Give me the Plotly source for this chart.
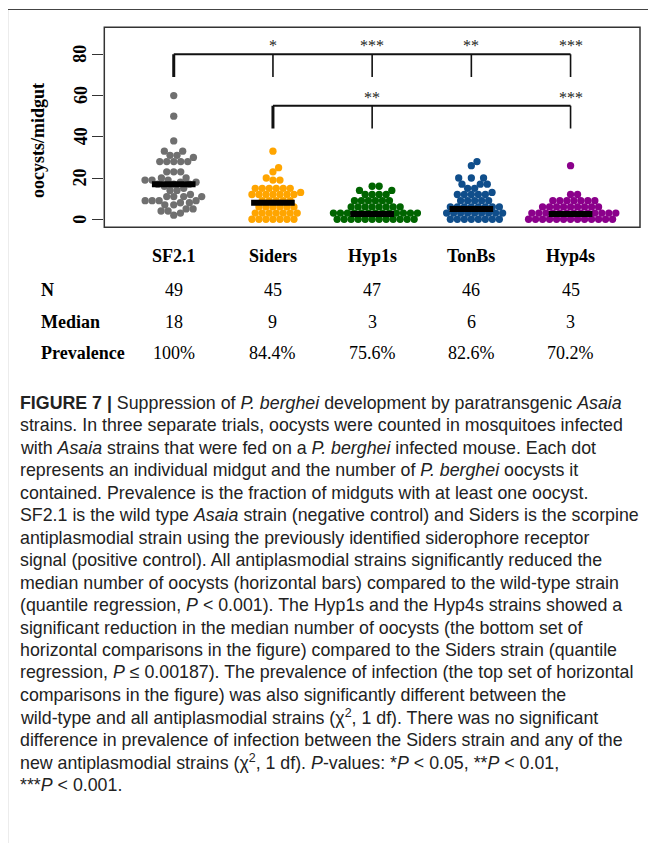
import math
import numpy as np
import plotly.graph_objects as go

# ---------------- data ----------------
groups = ["SF2.1", "Siders", "Hyp1s", "TonBs", "Hyp4s"]
colors = ["#707070", "#FFA500", "#006400", "#104E8B", "#8B008B"]

sf21 = [60, 50, 38, 33, 33, 31, 31, 30, 28, 28, 28, 28, 28, 23, 23, 23, 20, 20, 19, 19,
        19, 18, 18, 17, 17, 17, 16, 15, 14, 14, 12, 11, 11, 11, 11, 9, 9, 9, 9, 8,
        8, 7, 7, 5, 5, 4, 4, 3, 2]
siders = [33, 25, 23, 20, 19, 19, 15, 15, 15, 15, 15, 15, 13, 12, 12, 12, 12, 12, 12, 12,
          9, 9, 9, 9, 9, 6, 6, 6, 6, 6, 6, 3, 3, 3, 3, 3, 3, 3, 0, 0, 0, 0, 0, 0, 0]
hyp1s = [16, 16, 14, 14, 12, 12, 12, 12, 9, 9, 9, 9, 9, 9, 6, 6, 6, 6, 6, 6, 6, 6,
         3, 3, 3, 3, 3, 3, 3, 3, 3, 3, 3, 3, 3, 0, 0, 0, 0, 0, 0, 0, 0, 0, 0, 0, 0]
tonbs = [28, 26, 20, 20, 20, 17, 17, 17, 15, 15, 13, 12, 12, 12, 12, 12, 9, 9, 9, 9,
         9, 6, 6, 6, 6, 6, 6, 6, 6, 3, 3, 3, 3, 3, 3, 3, 3, 3, 0, 0, 0, 0, 0, 0, 0, 0]
hyp4s = [26, 12, 12, 9, 9, 9, 9, 9, 9, 9, 6, 6, 6, 6, 6, 6, 6, 6, 6,
         3, 3, 3, 3, 3, 3, 3, 3, 3, 3, 3, 3, 3, 0, 0, 0, 0, 0, 0, 0, 0, 0, 0, 0, 0, 0]
series = [sf21, siders, hyp1s, tonbs, hyp4s]

bar_levels = [17, 8, 2.5, 5, 2.5]          # horizontal median bars as drawn

y_ticks = [0, 20, 40, 60, 80]

# significance brackets
top_bracket_y, top_drop_y = 80, 69
top_groups = [1, 2, 3, 4, 5]
top_stars = ["", "*", "***", "**", "***"]
low_bracket_y, low_drop_y = 55, 44
low_groups = [2, 3, 5]
low_stars = ["", "**", "***"]

# table
row_labels = ["N", "Median", "Prevalence"]
n_row = ["49", "45", "47", "46", "45"]
median_row = ["18", "9", "3", "6", "3"]
prev_row = ["100%", "84.4%", "75.6%", "82.6%", "70.2%"]

caption_lines = [
    "<b>FIGURE 7 |</b> Suppression of <i>P. berghei</i> development by paratransgenic <i>Asaia</i>",
    "strains. In three separate trials, oocysts were counted in mosquitoes infected",
    "with <i>Asaia</i> strains that were fed on a <i>P. berghei</i> infected mouse. Each dot",
    "represents an individual midgut and the number of <i>P. berghei</i> oocysts it",
    "contained. Prevalence is the fraction of midguts with at least one oocyst.",
    "SF2.1 is the wild type <i>Asaia</i> strain (negative control) and Siders is the scorpine",
    "antiplasmodial strain using the previously identified siderophore receptor",
    "signal (positive control). All antiplasmodial strains significantly reduced the",
    "median number of oocysts (horizontal bars) compared to the wild-type strain",
    "(quantile regression, <i>P</i> &lt; 0.001). The Hyp1s and the Hyp4s strains showed a",
    "significant reduction in the median number of oocysts (the bottom set of",
    "horizontal comparisons in the figure) compared to the Siders strain (quantile",
    "regression, <i>P</i> ≤ 0.00187). The prevalence of infection (the top set of horizontal",
    "comparisons in the figure) was also significantly different between the",
    "wild-type and all antiplasmodial strains (χ<sup>2</sup>, 1 df). There was no significant",
    "difference in prevalence of infection between the Siders strain and any of the",
    "new antiplasmodial strains (χ<sup>2</sup>, 1 df). <i>P</i>-values: *<i>P</i> &lt; 0.05, **<i>P</i> &lt; 0.01,",
    "***<i>P</i> &lt; 0.001.",
]

# ---------------- layout geometry ----------------
OFF = 8                      # default body margin of the html page
W, H = 657 - 2 * OFF, 851 - 2 * OFF


def px(x):
    return (x - OFF) / W


def py(y):
    return 1 - (y - OFF) / H


PL, PR, PT, PB = 104.3, 640.0, 27.3, 227.3
XR = [0.3, 5.7]
YR = [-3.9, 93.1]
x_ppu = (PR - PL) / (XR[1] - XR[0])
y_ppu = (PB - PT) / (YR[1] - YR[0])
DOT = 7.3        # drawn marker diameter (px)
GAP = 7.0        # collision distance used by the swarm layout (px)


def swarm(values, d=GAP):
    vals = np.asarray(values, float)
    order = np.argsort(vals, kind="stable")
    placed = []
    offs = np.zeros(len(vals))
    for i in order:
        yv = vals[i] * y_ppu
        cands = [0.0]
        for (qx, qy) in placed:
            dy = abs(qy - yv)
            if dy < d:
                dx = math.sqrt(d * d - dy * dy)
                cands += [qx + dx, qx - dx]
        best = 0.0
        for c in sorted(cands, key=lambda v: (abs(v), -v)):
            if all((c - qx) ** 2 + (yv - qy) ** 2 >= d * d - 1e-6 for qx, qy in placed):
                best = c
                break
        placed.append((best, yv))
        offs[i] = best / x_ppu
    return offs


fig = go.Figure()
for gi, (vals, col) in enumerate(zip(series, colors)):
    xs = (gi + 1) + swarm(vals)
    fig.add_trace(go.Scatter(x=xs, y=vals, mode="markers",
                             marker=dict(size=DOT, color=col, line=dict(width=0)),
                             showlegend=False, hoverinfo="y"))

# median bars
for gi, lv in enumerate(bar_levels):
    fig.add_trace(go.Scatter(x=[gi + 1 - 0.22, gi + 1 + 0.22], y=[lv, lv], mode="lines",
                             line=dict(color="black", width=6), showlegend=False,
                             hoverinfo="skip"))

shapes = []
ann = []
LC = "#111111"
STAR = dict(family="Liberation Serif", size=16, color="#222")
# top bracket
shapes.append(dict(type="line", xref="x", yref="y", x0=top_groups[0], x1=top_groups[-1],
                   y0=top_bracket_y, y1=top_bracket_y, line=dict(color=LC, width=2)))
for k, g in enumerate(top_groups):
    shapes.append(dict(type="line", xref="x", yref="y", x0=g, x1=g, y0=top_drop_y,
                       y1=top_bracket_y, line=dict(color=LC, width=3 if k == 0 else 1.6)))
    if top_stars[k]:
        ann.append(dict(x=g, y=top_bracket_y + 4.4, xref="x", yref="y", text=top_stars[k],
                        xanchor="center", yanchor="middle", showarrow=False, font=STAR))
# lower bracket
shapes.append(dict(type="line", xref="x", yref="y", x0=low_groups[0], x1=low_groups[-1],
                   y0=low_bracket_y, y1=low_bracket_y, line=dict(color=LC, width=2)))
for k, g in enumerate(low_groups):
    shapes.append(dict(type="line", xref="x", yref="y", x0=g, x1=g, y0=low_drop_y,
                       y1=low_bracket_y, line=dict(color=LC, width=3 if k == 0 else 1.6)))
    if low_stars[k]:
        ann.append(dict(x=g, y=low_bracket_y + 4.0, xref="x", yref="y", text=low_stars[k],
                        xanchor="center", yanchor="middle", showarrow=False, font=STAR))

# panel box
shapes.append(dict(type="rect", xref="paper", yref="paper", x0=px(PL), x1=px(PR),
                   y0=py(PB), y1=py(PT), line=dict(color="#333", width=1.5)))
# outer frame (left + top)
shapes.append(dict(type="line", xref="paper", yref="paper", x0=px(7.5), x1=px(7.5),
                   y0=py(851), y1=py(9.5), line=dict(color="#444", width=1.2)))
shapes.append(dict(type="line", xref="paper", yref="paper", x0=px(7.5), x1=px(648),
                   y0=py(9.5), y1=py(9.5), line=dict(color="#444", width=1.2)))

# y tick labels (rotated, bold serif)
for t in y_ticks:
    ann.append(dict(x=px(80.5), y=t, xref="paper", yref="y", text="<b>%d</b>" % t,
                    xanchor="center", yanchor="middle",
                    textangle=-90, showarrow=False,
                    font=dict(family="Liberation Serif", size=18, color="black")))

# y-axis title
ann.append(dict(x=px(38), y=py(141), xref="paper", yref="paper", text="<b>oocysts/midgut</b>",
                xanchor="center", yanchor="middle",
                textangle=-90, showarrow=False,
                font=dict(family="Liberation Serif", size=18, color="black")))

# table
col_x = [PL + (g - XR[0]) * x_ppu for g in range(1, 6)]
TF = "Liberation Serif"
for g, name in enumerate(groups):
    ann.append(dict(x=px(col_x[g]), y=py(256), xref="paper", yref="paper",
                    xanchor="center", yanchor="middle",
                    text="<b>%s</b>" % name, showarrow=False,
                    font=dict(family=TF, size=18, color="black")))
row_y = [290, 322, 353]
for r, (lab, vals) in enumerate(zip(row_labels, [n_row, median_row, prev_row])):
    ann.append(dict(x=px(39), y=py(row_y[r]), xref="paper", yref="paper", xanchor="left",
                    yanchor="middle",
                    text="<b>%s</b>" % lab, showarrow=False,
                    font=dict(family=TF, size=18, color="black")))
    for g, v in enumerate(vals):
        ann.append(dict(x=px(col_x[g]), y=py(row_y[r]), xref="paper", yref="paper",
                        xanchor="center", yanchor="middle",
                        text=v, showarrow=False,
                        font=dict(family=TF, size=18, color="black")))

# caption
for i, line in enumerate(caption_lines):
    ann.append(dict(x=px(18), y=py(403 + i * 22.45), xref="paper", yref="paper",
                    xanchor="left", yanchor="middle", text=line, showarrow=False,
                    font=dict(family="Liberation Sans", size=17.8, color="#222")))

fig.update_layout(
    width=W, height=H, margin=dict(l=0, r=0, t=0, b=0),
    paper_bgcolor="white", plot_bgcolor="white",
    xaxis=dict(domain=[px(PL), px(PR)], range=XR, showgrid=False, zeroline=False,
               showticklabels=False, ticks="", showline=False),
    yaxis=dict(domain=[py(PB), py(PT)], range=YR, showgrid=False, zeroline=False,
               tickvals=y_ticks, showticklabels=False,
               ticks="outside", ticklen=11, tickwidth=1.3, tickcolor="#333",
               showline=False),
    shapes=shapes, annotations=ann,
)

fig.write_html("out.html")
